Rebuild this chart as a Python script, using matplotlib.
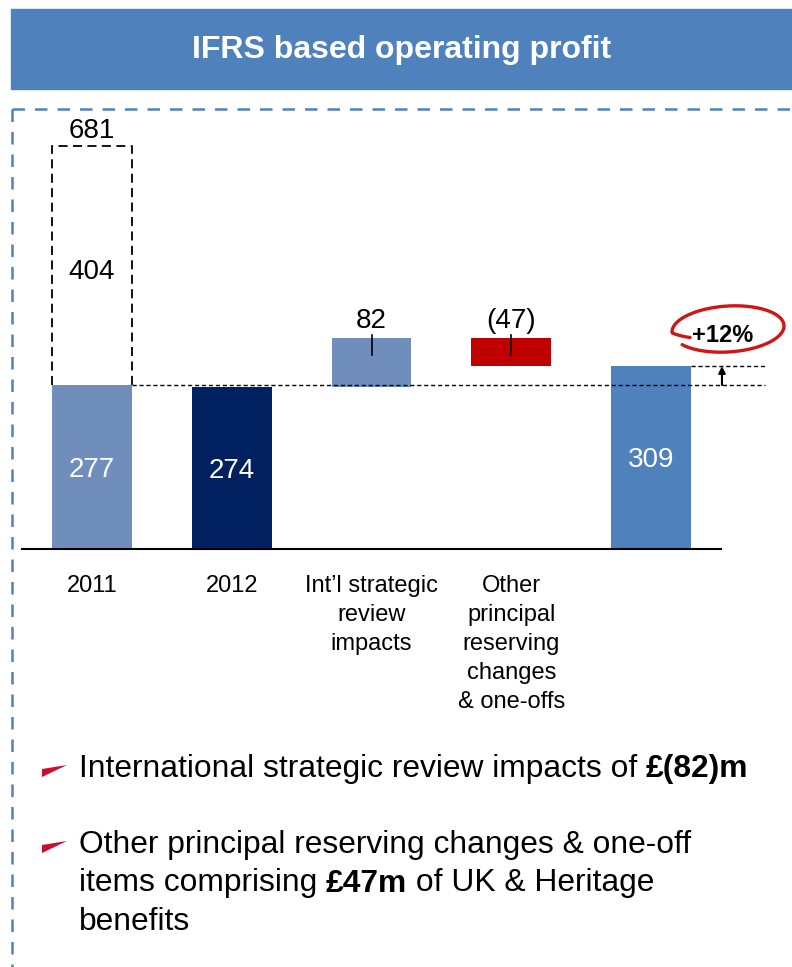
import numpy as np
import matplotlib.pyplot as plt

plt.rcParams['font.family'] = ['Liberation Sans', 'DejaVu Sans']

# chart values
categories = ["2011", "2012", "Int\u2019l strategic\nreview\nimpacts",
              "Other\nprincipal\nreserving\nchanges\n& one-offs", ""]
profit_2011 = 277
adjust_2011 = 404
total_2011 = 681
profit_2012 = 274
intl_impact = 82
other_changes = -47
profit_latest = 309
value_labels = ["277", "274", "82", "(47)", "309"]
growth_label = "+12%"

title = "IFRS based operating profit"
bullet_1 = [("International strategic review impacts of ", "normal"), ("\u00a3(82)m", "bold")]
bullet_2 = [
    [("Other principal reserving changes & one-off", "normal")],
    [("items comprising ", "normal"), ("\u00a347m", "bold"), (" of UK & Heritage", "normal")],
    [("benefits", "normal")],
]

BLUE = "#4F81BD"
LIGHT = "#6F8EBC"
NAVY = "#002060"
RED = "#C00000"
BULLET_FS = 22.9

fig = plt.figure(figsize=(7.92, 9.67), dpi=100)

# decoration layer in pixel units
deco = fig.add_axes([0, 0, 1, 1], zorder=0)
deco.set_xlim(0, 792)
deco.set_ylim(967, 0)
deco.axis("off")
deco.add_patch(plt.Rectangle((11, 9), 781, 80, color=BLUE))
deco.text(402, 50, title, color="white", fontsize=23, fontweight="bold",
          ha="center", va="center")
deco.plot([12, 792], [109, 109], color=BLUE, lw=1.8, ls=(0, (5, 4)))
deco.plot([12, 12], [109, 967], color=BLUE, lw=1.8, ls=(0, (5, 4)))

# chart
ax = fig.add_axes([22 / 792, 418 / 967, 699 / 792, 414.4 / 967], zorder=1)
ax.patch.set_alpha(0)
x = np.arange(len(categories))
w = 0.572
step1 = profit_2012 + intl_impact
step2 = step1 + other_changes
heights = [profit_2011, profit_2012, intl_impact, -other_changes, profit_latest]
bottoms = [0, 0, profit_2012, step2, 0]
colors = [LIGHT, NAVY, LIGHT, RED, BLUE]
ax.bar(x, heights, bottom=bottoms, width=w, color=colors, zorder=2)

# dashed box for the 2011 restated amount
ax.plot([x[0] - w / 2, x[0] - w / 2, x[0] + w / 2, x[0] + w / 2],
        [profit_2011, total_2011, total_2011, profit_2011],
        color="black", lw=1.3, ls=(0, (5, 3)), clip_on=False, zorder=3)
ax.text(x[0], total_2011 + 25, str(total_2011), fontsize=20, ha="center", va="center")
ax.text(x[0], profit_2011 + adjust_2011 / 2 - 11, str(adjust_2011), fontsize=20,
        ha="center", va="center")

# reference lines
ax.plot([x[0] + w / 2, 4.815], [profit_2011, profit_2011], color="black", lw=1,
        ls=(0, (3, 2)), clip_on=False, zorder=3)
ax.plot([x[4] + w / 2, 4.815], [profit_latest, profit_latest], color="black", lw=1,
        ls=(0, (3, 2)), clip_on=False, zorder=3)
ax.annotate("", xy=(4.507, profit_latest), xytext=(4.507, profit_2011),
            arrowprops=dict(arrowstyle="-|>", color="black", lw=1.5,
                            mutation_scale=10, shrinkA=0, shrinkB=0),
            annotation_clip=False)
ax.text(4.51, 360, growth_label, fontsize=17, fontweight="bold",
        ha="center", va="center")

# value labels
for i in (0, 1, 4):
    ax.text(x[i], heights[i] / 2 - 5, value_labels[i], color="white", fontsize=20,
            ha="center", va="center", zorder=4)
for i in (2, 3):
    ax.plot([x[i], x[i]], [step1 + 6, step1 - 28], color="black", lw=1.2, zorder=4)
    ax.text(x[i], step1 + 29, value_labels[i], fontsize=20, ha="center", va="center")

ax.set_xlim(-0.5, 4.5)
ax.set_ylim(0, 700)
ax.set_xticks(x, categories, fontsize=17)
for lab in ax.get_xticklabels():
    lab.set_linespacing(1.4)
ax.tick_params(axis="x", length=0, pad=19)
ax.set_yticks([])
for s in ("top", "left", "right"):
    ax.spines[s].set_visible(False)
ax.spines["bottom"].set_linewidth(1.5)

# hand drawn ring around the growth figure
t = np.linspace(np.deg2rad(160), np.deg2rad(505), 200)
r = np.clip(0.72 + (t - t[0]) * 0.9, 0, 1.0)
ex = 728 + 56 * r * np.cos(t)
ey = 329 + 23 * r * np.sin(t) + 3 * np.cos(t - np.pi)
deco.plot(ex, ey, color="#D01515", lw=2.4, solid_capstyle="round", zorder=5)

# bullets
renderer = fig.canvas.get_renderer()


def text_width(s, weight):
    a = deco.text(0, 0, "x" + s + "x", fontsize=BULLET_FS, fontweight=weight)
    b = deco.text(0, 0, "xx", fontsize=BULLET_FS, fontweight=weight)
    wd = a.get_window_extent(renderer).width - b.get_window_extent(renderer).width
    a.remove()
    b.remove()
    return wd


def rich_line(x0, y0, parts):
    for s, weight in parts:
        deco.text(x0, y0, s, fontsize=BULLET_FS, fontweight=weight, ha="left", va="baseline")
        x0 += text_width(s, weight)


def marker(base):
    deco.fill([42, 42, 67], [base - 8, base, base - 12], color="#C8102E", lw=0)


marker(777)
rich_line(79, 777, bullet_1)
marker(853)
for k, line in enumerate(bullet_2):
    rich_line(79, 853 + 38.5 * k, line)

fig.savefig("out.png", dpi=100)
